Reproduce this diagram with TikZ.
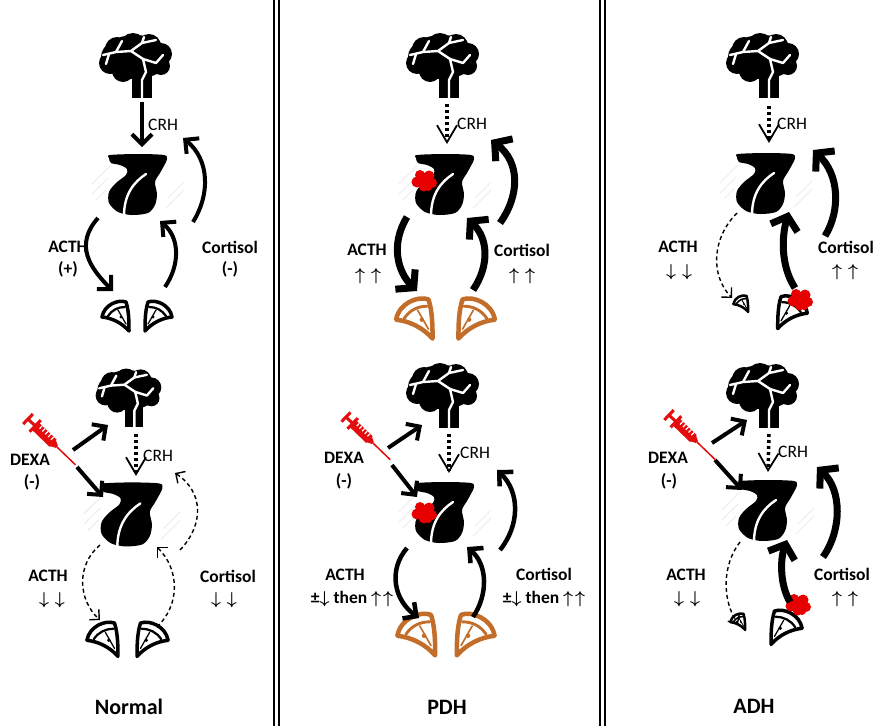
\documentclass[tikz,border=0pt]{standalone}
\usepackage{fontspec}
\setmainfont{Carlito}
\usetikzlibrary{arrows.meta}

\definecolor{tumorred}{RGB}{232,0,0}
\definecolor{syrred}{RGB}{228,12,12}
\definecolor{adrorange}{RGB}{194,110,42}

\newcommand{\upup}{{\boldmath$\uparrow$\hspace{6pt}$\uparrow$}}
\newcommand{\dndn}{{\boldmath$\downarrow$\hspace{6pt}$\downarrow$}}
\newcommand{\thenup}{±{\boldmath$\downarrow$} then {\boldmath$\uparrow$\hspace{2pt}$\uparrow$}}

\tikzset{
  vein/.style={white, line width=2.4pt, line cap=round, line join=round},
  brain/.pic={
    \fill (0,-1) ellipse [x radius=34, y radius=22];
    \fill (-2,-12) circle [radius=13] (14,-12) circle [radius=12] (-18,-9) circle [radius=12]
          (26,-4) circle [radius=11] (-25,5) circle [radius=11] (26,8) circle [radius=9]
          (-12,13) circle [radius=11];
    \fill (-3,12) rectangle (17,40);
    \draw[vein] (-32,-3) -- (-19,-6) -- (-4,-7) -- (7,-15) -- (21,-18);
    \draw[vein] (-19,-6) -- (-13,-17);
    \draw[vein] (7,-15) -- (9,-21);
    \draw[vein] (-4,-7) -- (8,1) -- (11,14) -- (7,22) -- (7,41);
    \draw[vein] (8,1) -- (21,5) -- (28,-3);
    \draw[vein] (-26,-4) -- (-29,6);
  },
  pituitary/.pic={
    \draw[gray!14, line width=1pt] (-46,-2) -- (-28,-20) (-46,8) -- (-30,-8) (-42,14) -- (-32,4)
      (30,12) -- (46,-4) (28,22) -- (46,4);
    \fill plot[smooth cycle, tension=0.5] coordinates {(-28,-31) (0,-32) (26,-31) (29,-27)
      (27,-22) (22,-13) (17,-4) (19,8) (17,19) (10,27) (-6,29) (-20,26) (-29,17) (-29,6)
      (-22,-3) (-12,-11) (-11,-17) (-18,-21) (-27,-23) (-29,-28)};
    \draw[white, line width=2.4pt, line cap=round] (8,-12) .. controls (-4,-4) and (-14,8) .. (-14,30);
  },
  adrenal/.pic={
    \draw[line join=round] (-14,2) .. controls (-12,-10) and (2,-16) .. (10,-13)
      .. controls (13,-4) and (13,8) .. (13,16) .. controls (6,8) and (-4,3) .. cycle;
    \draw[line width=0.8\pgflinewidth, line cap=round] (-8,1) .. controls (-4,-5) and (2,-8) .. (9,-8);
    \draw[line width=0.6\pgflinewidth, line cap=round] (2,-5) -- (10,9);
    \fill (5,2) circle [radius=1.6];
  },
  tumour/.pic={
    \fill[tumorred] (0,0) circle [radius=6] (6,-4) circle [radius=5.5] (9,3) circle [radius=5]
      (-6,2) circle [radius=5.5] (1,6) circle [radius=5.5] (-3,-5) circle [radius=5] (5,7) circle [radius=4];
  },
  syringe/.pic={
    \draw[line width=3pt] (0,-7) -- (0,7) (0,0) -- (10,0) (10,-8) -- (10,8);
    \fill (11,-5) rectangle (35,5) (35,-4) -- (40,-1.5) -- (40,1.5) -- (35,4) -- cycle;
    \draw[white, line width=1.2pt] \foreach \t in {15,19,...,31} {(\t,-5) -- (\t,-1)};
    \draw[line width=1.5pt] (40,0) -- (66,0);
  },
}

\begin{document}
\begin{tikzpicture}[x=1pt, y=-1pt,
  hormone/.style={line width=4pt, -{Straight Barb[length=10pt,width=20pt]}},
  strong/.style={line width=7pt, -{Straight Barb[length=12pt,width=28pt]}},
  weak/.style={line width=1.4pt, dash pattern=on 4pt off 3pt, -{Straight Barb[length=7pt,width=14pt]}},
  crh/.style={line width=3.5pt, dash pattern=on 3pt off 3pt, -{Straight Barb[length=17pt,width=20pt,line width=1.8pt]}},
  lab/.style={font=\bfseries\fontsize{17.5}{20}\selectfont, inner sep=0pt},
  arr/.style={font=\fontsize{18}{20}\selectfont, inner sep=0pt},
  crhlab/.style={font=\fontsize{17.5}{20}\selectfont, inner sep=0pt, anchor=west},
  paneltitle/.style={font=\bfseries\fontsize{22}{25}\selectfont, inner sep=0pt}]

  \useasboundingbox (0,0) rectangle (875,726);
  \fill[white] (0,0) rectangle (875,726);
  \foreach \x in {274.3,279,600,604.5}
  {
      \draw[line width=2pt] (\x,0) -- (\x,726);
  }

  % normal, top
  \pic at (135,58) {brain};
  \pic at (138,186) {pituitary};
  \pic[line width=3.5pt] at (116,315) {adrenal};
  \pic[line width=3.5pt, xscale=-1] at (158,315) {adrenal};
  \path (142,102) coordinate (n1c0) (142,147) coordinate (n1c1)
        (98,218) coordinate (n1a0) (113,291) coordinate (n1a1)
        (165,287) coordinate (n1r0) (160,221) coordinate (n1r1)
        (193,222) coordinate (n1o0) (183,138) coordinate (n1o1);
  \draw[hormone] (n1c0) -- (n1c1);
  \draw[hormone] (n1a0) .. controls +(-24,27) and +(-23,-23) .. (n1a1);
  \draw[hormone] (n1r0) .. controls +(15,-22) and +(20,17) .. (n1r1);
  \draw[hormone] (n1o0) .. controls +(17,-27) and +(27,22) .. (n1o1);
  \node[crhlab] (n1crh) at (148,125) {CRH};
  \node[lab] (n1acth) at (68,247) {ACTH};
  \node[lab] (n1plus) at (68,269) {(+)};
  \node[lab] (n1cort) at (230,247) {Cortisol};
  \node[lab] (n1minus) at (230,269) {(-)};

  % normal, dexa
  \pic[scale=0.9] at (128,391) {brain};
  \pic[scale=1.05] at (132,516) {pituitary};
  \pic[line width=3.5pt, scale=1.15] at (103,638) {adrenal};
  \pic[line width=3.5pt, scale=1.15, xscale=-1] at (152,638) {adrenal};
  \pic[color=syrred, rotate=-44] at (28,419) {syringe};
  \path (136,434) coordinate (n2c0) (136,476) coordinate (n2c1)
        (73,450) coordinate (n2d0) (108,425) coordinate (n2d1)
        (77,467) coordinate (n2e0) (103,497) coordinate (n2e1)
        (100,545) coordinate (n2a0) (100,620) coordinate (n2a1)
        (157,627) coordinate (n2r0) (157,547) coordinate (n2r1)
        (180,550) coordinate (n2o0) (175,473) coordinate (n2o1);
  \draw[crh] (n2c0) -- (n2c1);
  \draw[hormone] (n2d0) -- (n2d1);
  \draw[hormone] (n2e0) -- (n2e1);
  \draw[weak] (n2a0) .. controls +(-24,20) and +(-22,-20) .. (n2a1);
  \draw[weak] (n2r0) .. controls +(23,-22) and +(23,23) .. (n2r1);
  \draw[weak] (n2o0) .. controls +(24,-25) and +(29,19) .. (n2o1);
  \node[crhlab] (n2crh) at (143,456) {CRH};
  \node[lab] (n2dexa) at (30,460) {DEXA};
  \node[lab] (n2minus) at (32,482) {(-)};
  \node[lab] (n2acth) at (48,576) {ACTH};
  \node[arr] (n2down) at (52,600) {\dndn};
  \node[lab] (n2cort) at (228,576) {Cortisol};
  \node[arr] (n2down2) at (224,600) {\dndn};
  \node[paneltitle] (tnormal) at (129,707) {Normal};

  % PDH, top
  \pic at (442,58) {brain};
  \pic at (445,186) {pituitary};
  \pic at (423,180) {tumour};
  \pic[color=adrorange, line width=4.5pt, scale=1.35] at (415,317) {adrenal};
  \pic[color=adrorange, line width=4.5pt, scale=1.35, xscale=-1] at (476,317) {adrenal};
  \path (447,104) coordinate (p1c0) (447,144) coordinate (p1c1)
        (407,217) coordinate (p1a0) (417,291) coordinate (p1a1)
        (473,290) coordinate (p1r0) (467,218) coordinate (p1r1)
        (500,223) coordinate (p1o0) (491,140) coordinate (p1o1);
  \draw[crh] (p1c0) -- (p1c1);
  \draw[strong] (p1a0) .. controls +(-17,28) and +(-19,-19) .. (p1a1);
  \draw[strong] (p1r0) .. controls +(17,-25) and +(21,20) .. (p1r1);
  \draw[strong] (p1o0) .. controls +(20,-28) and +(29,22) .. (p1o1);
  \node[crhlab] (p1crh) at (457,124) {CRH};
  \node[lab] (p1acth) at (367,250) {ACTH};
  \node[arr] (p1up) at (368,276) {\upup};
  \node[lab] (p1cort) at (522,250) {Cortisol};
  \node[arr] (p1up2) at (522,276) {\upup};

  % PDH, dexa
  \pic at (442,388) {brain};
  \pic at (445,514) {pituitary};
  \pic at (423,512) {tumour};
  \pic[color=adrorange, line width=4.5pt, scale=1.4] at (417,633) {adrenal};
  \pic[color=adrorange, line width=4.5pt, scale=1.4, xscale=-1] at (475,633) {adrenal};
  \pic[color=syrred, rotate=-44, scale=0.93] at (346,417) {syringe};
  \path (449,434) coordinate (p2c0) (449,473) coordinate (p2c1)
        (388,448) coordinate (p2d0) (422,425) coordinate (p2d1)
        (392,465) coordinate (p2e0) (417,497) coordinate (p2e1)
        (407,548) coordinate (p2a0) (419,618) coordinate (p2a1)
        (473,617) coordinate (p2r0) (467,547) coordinate (p2r1)
        (500,550) coordinate (p2o0) (497,470) coordinate (p2o1);
  \draw[crh] (p2c0) -- (p2c1);
  \draw[hormone] (p2d0) -- (p2d1);
  \draw[hormone] (p2e0) -- (p2e1);
  \draw[hormone, line width=4.5pt] (p2a0) .. controls +(-19,22) and +(-25,-18) .. (p2a1);
  \draw[hormone, line width=4.5pt] (p2r0) .. controls +(15,-22) and +(21,18) .. (p2r1);
  \draw[hormone, line width=4.5pt] (p2o0) .. controls +(20,-25) and +(23,22) .. (p2o1);
  \node[crhlab] (p2crh) at (460,453) {CRH};
  \node[lab] (p2dexa) at (344,458) {DEXA};
  \node[lab] (p2minus) at (344,481) {(-)};
  \node[lab] (p2acth) at (345,575) {ACTH};
  \node[lab] (p2then) at (352,599) {\thenup};
  \node[lab] (p2cort) at (544,574) {Cortisol};
  \node[lab] (p2then2) at (544,599) {\thenup};
  \node[paneltitle] (tpdh) at (447,707) {PDH};

  % ADH, top
  \pic at (762,58) {brain};
  \pic at (766,185) {pituitary};
  \pic[line width=2.5pt, scale=0.55] at (741,303) {adrenal};
  \pic[line width=3.5pt, scale=1.1, xscale=-1] at (792,311) {adrenal};
  \pic at (799,299) {tumour};
  \path (769,106) coordinate (a1c0) (769,143) coordinate (a1c1)
        (737,213) coordinate (a1a0) (732,298) coordinate (a1a1)
        (795,288) coordinate (a1r0) (789,212) coordinate (a1r1)
        (825,236) coordinate (a1o0) (813,150) coordinate (a1o1);
  \draw[crh] (a1c0) -- (a1c1);
  \draw[weak] (a1a0) .. controls +(-25,25) and +(-22,-23) .. (a1a1);
  \draw[strong] (a1r0) .. controls +(-15,-23) and +(-7,23) .. (a1r1);
  \draw[strong] (a1o0) .. controls +(16,-26) and +(26,24) .. (a1o1);
  \node[crhlab] (a1crh) at (777,124) {CRH};
  \node[lab] (a1acth) at (678,247) {ACTH};
  \node[arr] (a1down) at (679,272) {\dndn};
  \node[lab] (a1cort) at (846,247) {Cortisol};
  \node[arr] (a1up) at (845,272) {\upup};

  % ADH, dexa
  \pic at (762,388) {brain};
  \pic at (768,512) {pituitary};
  \pic[line width=2.5pt, scale=0.55] at (738,621) {adrenal};
  \pic[line width=3.5pt, scale=1.15, xscale=-1] at (786,626) {adrenal};
  \pic at (797,604) {tumour};
  \pic[color=syrred, rotate=-44, scale=0.97] at (669,415) {syringe};
  \path (769,434) coordinate (a2c0) (768,472) coordinate (a2c1)
        (712,443) coordinate (a2d0) (747,420) coordinate (a2d1)
        (715,460) coordinate (a2e0) (742,490) coordinate (a2e1)
        (740,542) coordinate (a2a0) (738,624) coordinate (a2a1)
        (790,602) coordinate (a2r0) (787,540) coordinate (a2r1)
        (823,557) coordinate (a2o0) (817,467) coordinate (a2o1);
  \draw[crh] (a2c0) -- (a2c1);
  \draw[hormone] (a2d0) -- (a2d1);
  \draw[hormone] (a2e0) -- (a2e1);
  \draw[weak] (a2a0) .. controls +(-18,23) and +(-16,-24) .. (a2a1);
  \draw[strong] (a2r0) .. controls +(-10,-17) and +(-7,20) .. (a2r1);
  \draw[strong] (a2o0) .. controls +(19,-27) and +(25,23) .. (a2o1);
  \node[crhlab] (a2crh) at (778,452) {CRH};
  \node[lab] (a2dexa) at (668,458) {DEXA};
  \node[lab] (a2minus) at (669,481) {(-)};
  \node[lab] (a2acth) at (686,575) {ACTH};
  \node[arr] (a2down) at (687,599) {\dndn};
  \node[lab] (a2cort) at (842,574) {Cortisol};
  \node[arr] (a2up) at (845,599) {\upup};
  \node[paneltitle] (tadh) at (754,706) {ADH};
\end{tikzpicture}
\end{document}
